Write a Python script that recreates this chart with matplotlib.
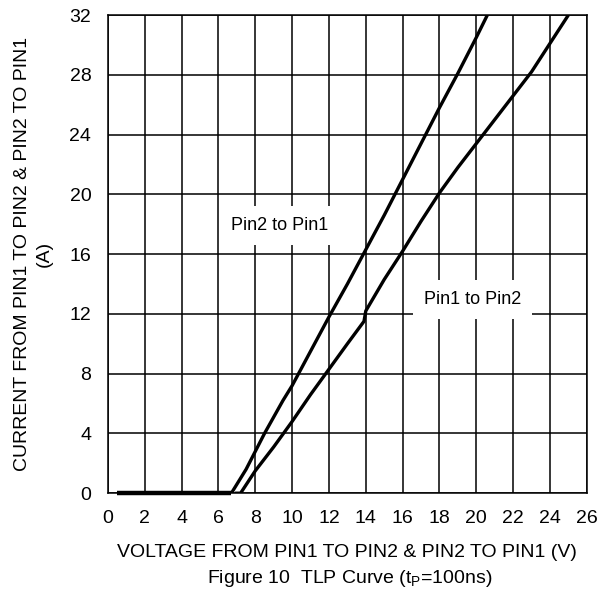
import numpy as np
import matplotlib
matplotlib.use("Agg")
import matplotlib.pyplot as plt

plt.rcParams['font.family'] = ['Liberation Sans', 'DejaVu Sans']

# Pin2 -> Pin1
v_21 = [0.5, 2, 4, 6, 6.7, 7.5, 8.5, 9.5, 10, 11, 12, 13, 14, 15, 16, 17, 18, 19, 20, 20.6]
i_21 = [0, 0, 0, 0, 0, 1.6, 4.0, 6.2, 7.2, 9.5, 11.8, 14.0, 16.3, 18.6, 21.0, 23.4, 25.8, 28.1, 30.5, 32]

# Pin1 -> Pin2
v_12 = [6.9, 7.2, 8, 9, 10, 11, 12, 13, 13.9, 14.0, 15, 16, 17, 18, 19, 20, 21, 22, 23, 24, 25]
i_12 = [0, 0, 1.5, 3.1, 4.8, 6.6, 8.3, 10.0, 11.5, 12.2, 14.3, 16.2, 18.2, 20.1, 21.8, 23.4, 25.0, 26.6, 28.2, 30.1, 32]

xticks = list(range(0, 27, 2))
yticks = list(range(0, 33, 4))

fig = plt.figure(figsize=(6.1, 6.0), dpi=100)
ax = fig.add_axes([0.177, 0.178, 0.785, 0.797])

ax.plot(v_21, i_21, color='black', lw=2.4, solid_capstyle='butt', zorder=3)
ax.plot(v_12, i_12, color='black', lw=2.4, solid_capstyle='butt', zorder=3)
# thicker flat part near zero
ax.plot(v_21[:5], i_21[:5], color='black', lw=3.2, solid_capstyle='butt', zorder=3, clip_on=False)

ax.set_xlim(0, 26)
ax.set_ylim(0, 32)
ax.set_xticks(xticks)
ax.set_yticks(yticks)
ax.tick_params(length=0, labelsize=14)
ax.tick_params(axis='x', pad=12)
ax.tick_params(axis='y', pad=12)
ax.grid(True, color='black', lw=1.1)
for s in ax.spines.values():
    s.set_color('black')
    s.set_linewidth(1.1)

ax.text(9.3, 17.9, 'Pin2 to Pin1', ha='center', va='center', fontsize=13, zorder=4,
        bbox=dict(facecolor='white', edgecolor='none', pad=8))
ax.text(19.8, 12.95, 'Pin1 to Pin2', ha='center', va='center', fontsize=13, zorder=4,
        bbox=dict(facecolor='white', edgecolor='none', pad=8))

ax.set_ylabel('CURRENT FROM PIN1 TO PIN2 & PIN2 TO PIN1\n(A)', fontsize=14, linespacing=1.35, labelpad=12)
ax.set_xlabel('VOLTAGE FROM PIN1 TO PIN2 & PIN2 TO PIN1 (V)', fontsize=14, labelpad=12)
fig.text(0.573, 0.028, r'Figure 10  TLP Curve (t$_\mathregular{P}$=100ns)', ha='center', fontsize=14)

fig.savefig('out.png', dpi=100)
